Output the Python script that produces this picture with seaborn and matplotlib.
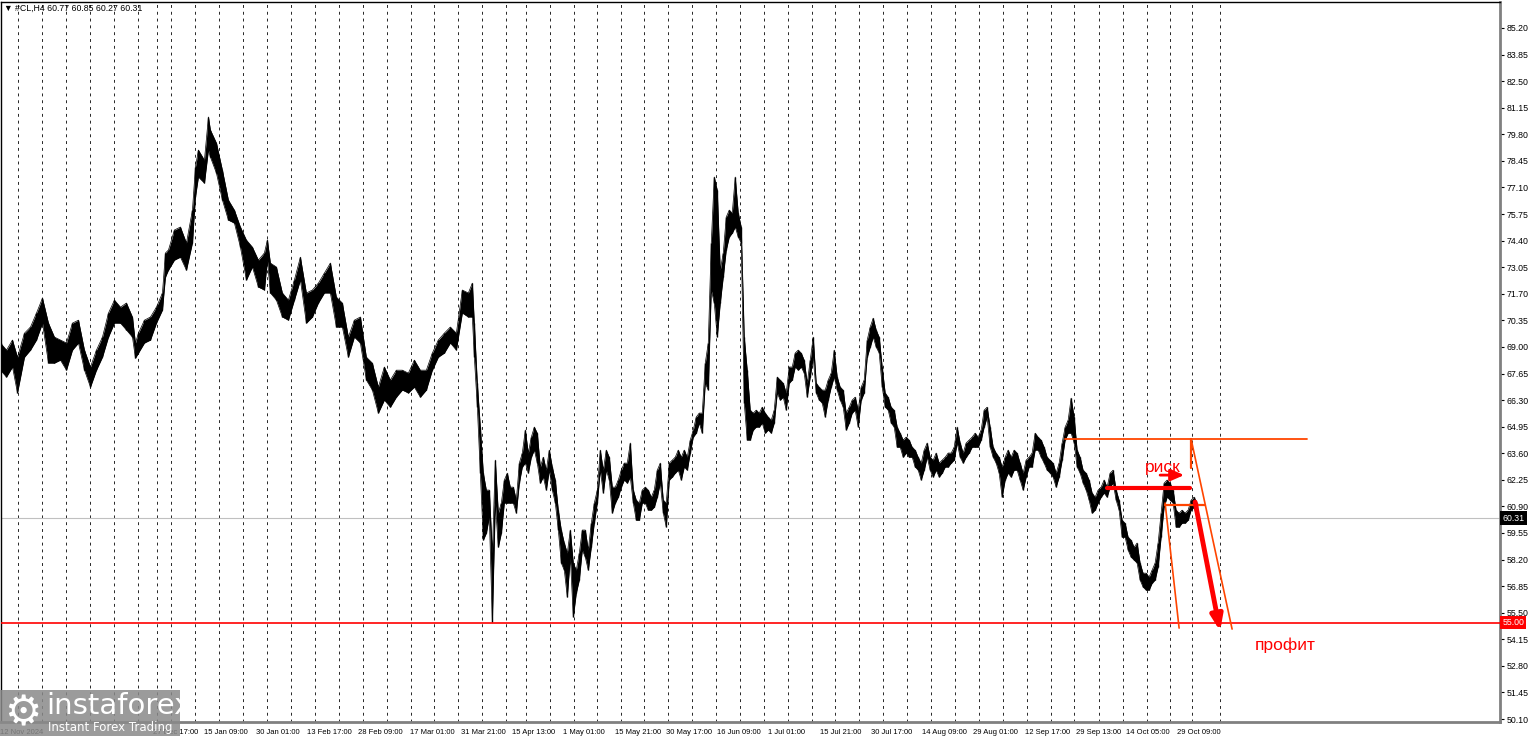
import numpy as np
import pandas as pd
import matplotlib
matplotlib.use("Agg")
import matplotlib.pyplot as plt
import seaborn as sns
from matplotlib.patches import Rectangle
from matplotlib.transforms import blended_transform_factory

# ---------------------------------------------------------------------
# Data (#CL, H4).  "bar" is the position
# of a sampled bar along the time axis, highs / lows are prices in USD.
# ---------------------------------------------------------------------
bar_early = [0, 6, 12, 17, 24, 30, 36, 42, 48, 54,
             60, 66, 72, 78, 84, 90, 96, 102, 108, 114,
             120, 126, 132, 135, 138, 144, 150, 156, 162, 165,
             168, 174, 180, 186, 192, 195, 198, 204, 208, 210,
             216, 222, 228, 234, 240, 246, 252, 258, 264, 267,
             270, 276, 282, 288, 294, 300, 306, 312, 318, 324,
             330, 336, 342, 348, 354, 360, 366, 372, 378, 384,
             390, 396, 402, 408, 414, 420, 426, 432, 438, 444,
             450, 456, 462, 468, 472, 474, 477, 480, 483, 486,
             489, 492, 495]
high_early = [69.20, 68.84, 69.35, 68.48, 69.70, 70.01, 70.72, 71.48, 70.21, 69.50,
              69.35, 69.20, 70.21, 70.36, 68.84, 67.98, 68.84, 69.50, 70.72, 71.38,
              71.02, 71.23, 70.52, 69.20, 69.70, 70.36, 70.52, 71.02, 71.74, 73.77,
              73.92, 74.94, 75.09, 74.28, 75.95, 78.14, 79.00, 78.49, 80.68, 80.02,
              79.36, 77.98, 76.46, 75.95, 75.09, 74.43, 74.07, 73.41, 73.77, 74.43,
              73.26, 73.06, 71.74, 71.38, 72.40, 73.56, 71.74, 71.89, 72.24, 72.75,
              73.26, 71.53, 71.23, 69.50, 70.36, 70.52, 68.48, 68.18, 66.96, 67.98,
              67.32, 67.82, 67.82, 67.67, 68.33, 67.82, 67.82, 68.69, 69.35, 69.70,
              70.01, 69.70, 71.89, 71.74, 72.24, 70.21, 67.16, 64.93, 62.59, 61.73,
              61.73, 58.53, 63.25]
low_early = [67.82, 67.47, 67.98, 66.66, 68.48, 68.84, 69.35, 70.21, 68.18, 68.18,
             68.33, 67.82, 68.84, 69.20, 67.82, 66.96, 67.82, 68.48, 69.50, 70.21,
             70.21, 69.86, 69.50, 68.43, 68.69, 69.20, 69.35, 70.21, 70.87, 72.55,
             72.90, 73.41, 73.56, 72.90, 74.28, 76.61, 77.63, 77.32, 79.00, 78.64,
             77.83, 76.46, 75.44, 75.29, 74.07, 72.40, 73.06, 72.04, 71.89, 73.41,
             71.74, 71.38, 70.52, 70.36, 71.38, 72.40, 70.21, 70.52, 71.23, 71.74,
             71.74, 70.01, 70.01, 68.48, 69.50, 69.20, 67.32, 66.81, 65.64, 66.30,
             65.94, 66.45, 66.81, 66.66, 66.96, 66.45, 66.81, 67.82, 68.48, 68.69,
             69.20, 68.84, 70.72, 70.52, 70.52, 68.48, 65.94, 62.59, 59.19, 59.54,
             60.36, 55.02, 61.07]

# from bar 498 on the chart was sampled every third bar
bar_late = list(range(498, 1198, 3))
high_late = [60.56, 61.07, 62.24, 62.59, 61.88, 61.88, 61.22, 63.10, 63.61, 64.78,   # 498
             63.61, 64.42, 64.93, 64.62, 62.90, 63.40, 62.74, 63.76, 62.90, 62.24,   # 528
             60.71, 59.70, 59.04, 58.53, 59.70, 58.02, 57.66, 58.53, 59.70, 59.70,   # 558
             58.68, 60.05, 61.07, 61.73, 63.76, 62.74, 63.76, 63.40, 61.88, 61.88,   # 588
             62.24, 62.74, 63.10, 63.10, 64.12, 61.73, 61.22, 61.07, 61.73, 61.88,   # 618
             61.73, 61.37, 61.73, 62.74, 63.10, 61.22, 61.07, 63.10, 63.25, 63.40,   # 648
             63.76, 63.40, 63.76, 63.40, 64.27, 64.78, 65.44, 65.64, 65.64, 68.18,   # 678
             69.20, 74.28, 77.63, 76.97, 72.90, 73.77, 75.60, 75.95, 75.80, 77.63,   # 708
             75.80, 75.09, 69.50, 67.82, 65.79, 65.64, 65.79, 65.64, 65.94, 65.64,   # 738
             65.44, 65.28, 65.79, 67.47, 67.32, 67.16, 66.66, 67.98, 67.98, 68.69,   # 768
             68.84, 68.69, 68.33, 67.16, 68.33, 69.50, 67.16, 66.96, 66.81, 66.81,   # 798
             67.32, 67.67, 68.84, 67.47, 66.96, 66.81, 65.64, 65.94, 66.30, 66.45,   # 828
             65.79, 66.96, 67.32, 69.35, 70.01, 70.46, 69.86, 69.50, 67.98, 66.66,   # 858
             66.45, 65.94, 65.79, 64.93, 64.62, 64.27, 64.42, 64.27, 63.91, 63.76,   # 888
             63.40, 63.10, 63.76, 64.12, 63.40, 63.25, 63.61, 63.10, 63.25, 63.40,   # 918
             63.61, 63.61, 63.91, 64.93, 64.12, 63.61, 64.12, 64.27, 64.42, 64.62,   # 948
             64.42, 64.78, 65.79, 65.94, 64.93, 63.91, 63.61, 63.40, 62.90, 63.40,   # 978
             63.76, 63.40, 63.76, 63.61, 63.10, 62.59, 63.25, 63.40, 63.61, 64.62,   # 1008
             64.42, 64.27, 63.91, 63.40, 63.25, 63.10, 62.59, 63.10, 64.12, 64.93,   # 1038
             65.28, 66.40, 65.44, 63.76, 63.40, 62.74, 62.59, 62.24, 61.58, 61.37,   # 1068
             61.73, 61.88, 62.24, 61.88, 62.59, 62.74, 61.73, 61.22, 60.20, 60.05,   # 1098
             59.34, 59.19, 58.83, 59.04, 58.02, 57.51, 57.51, 57.31, 57.66, 58.02,   # 1128
             59.04, 60.56, 62.08, 62.24, 62.08, 61.73, 60.71, 60.56, 60.71, 60.56,   # 1158
             60.71, 61.22, 61.37, 61.07]                                             # 1188
low_late = [58.83, 59.54, 61.07, 61.07, 61.07, 61.07, 60.56, 62.08, 62.90, 63.10,
            62.59, 63.40, 63.76, 63.10, 62.08, 62.39, 61.73, 62.74, 61.73, 61.07,
            59.70, 58.02, 57.66, 56.29, 58.32, 55.28, 56.50, 57.16, 58.68, 58.32,
            57.66, 58.83, 60.05, 61.07, 62.74, 61.58, 62.74, 62.24, 60.56, 61.07,
            61.37, 61.88, 62.24, 62.08, 62.39, 61.07, 60.20, 60.20, 61.07, 61.07,
            60.71, 60.71, 60.86, 61.37, 62.08, 60.56, 59.85, 62.24, 62.39, 62.59,
            62.74, 62.24, 62.90, 62.74, 63.61, 64.42, 64.62, 65.13, 64.62, 67.16,
            66.81, 71.89, 71.23, 69.50, 71.23, 72.55, 73.92, 74.58, 74.78, 75.09,
            74.58, 74.28, 66.15, 64.27, 64.27, 64.78, 64.93, 64.93, 65.13, 64.62,
            64.78, 64.62, 65.13, 66.66, 66.30, 66.45, 65.79, 67.16, 67.32, 67.98,
            67.82, 67.98, 67.67, 66.45, 67.47, 68.48, 66.66, 66.30, 66.15, 65.44,
            66.30, 66.96, 67.47, 66.81, 66.30, 65.94, 64.78, 65.13, 65.64, 65.79,
            64.93, 66.30, 66.66, 68.48, 68.99, 69.50, 68.99, 68.69, 66.96, 65.94,
            65.79, 65.13, 64.93, 63.91, 63.91, 63.40, 63.61, 63.40, 63.40, 62.90,
            62.74, 62.24, 62.74, 63.40, 62.74, 62.39, 62.74, 62.39, 62.59, 62.90,
            62.90, 63.10, 63.25, 64.12, 63.40, 63.10, 63.40, 63.61, 63.91, 63.91,
            63.91, 64.27, 64.93, 65.44, 63.91, 63.40, 63.10, 62.59, 61.37, 62.24,
            62.59, 62.39, 62.74, 62.74, 62.24, 61.73, 62.39, 62.90, 62.90, 63.76,
            63.76, 63.40, 63.10, 62.74, 62.59, 62.39, 61.88, 62.39, 63.25, 64.27,
            64.62, 64.62, 64.12, 62.90, 62.59, 62.08, 61.73, 61.22, 60.56, 60.71,
            61.07, 61.37, 61.58, 61.37, 61.88, 62.08, 61.22, 60.71, 59.34, 59.34,
            58.68, 58.32, 58.17, 58.02, 57.16, 56.80, 56.65, 56.65, 57.00, 57.16,
            57.82, 59.34, 60.86, 61.37, 61.22, 61.07, 59.85, 59.85, 60.05, 60.05,
            60.20, 60.71, 60.86, 60.31]

bars = bar_early + bar_late
highs = high_early + high_late
lows = low_early + low_late
assert len(bars) == len(highs) == len(lows), (len(bars), len(highs), len(lows))

header_text = "\u25bc #CL,H4 60.77 60.85 60.27 60.31"
last_price = 60.31
target_price = 55.00

price_ticks = [50.10, 51.45, 52.80, 54.15, 55.50, 56.85, 58.20, 59.55, 60.90,
               62.25, 63.60, 64.95, 66.30, 67.65, 69.00, 70.35, 71.70, 73.05,
               74.40, 75.75, 77.10, 78.45, 79.80, 81.15, 82.50, 83.85, 85.20]

date_ticks = [0, 51, 102, 153, 204, 256, 307, 358, 410, 461, 512, 563,
              615, 666, 717, 768, 820, 871, 922, 973, 1025, 1076, 1126, 1177]
date_labels = ["12 Nov 2024", "", "", "27 Dec 17:00", "15 Jan 09:00",
               "30 Jan 01:00", "13 Feb 17:00", "28 Feb 09:00", "17 Mar 01:00",
               "31 Mar 21:00", "15 Apr 13:00", "1 May 01:00", "15 May 21:00",
               "30 May 17:00", "16 Jun 09:00", "1 Jul 01:00", "15 Jul 21:00",
               "30 Jul 17:00", "14 Aug 09:00", "29 Aug 01:00", "12 Sep 17:00",
               "29 Sep 13:00", "14 Oct 05:00", "29 Oct 09:00"]

# weekly period separators
week_separators = [18, 42, 66, 90, 114, 138, 157, 171, 195, 219, 243, 267,
                   291, 315, 339, 363, 387, 411, 434, 458, 482, 506, 526, 550,
                   574, 597, 621, 644, 668, 692, 716, 740, 764, 788, 812, 835,
                   859, 883, 907, 931, 955, 979, 1003, 1027, 1051, 1074, 1099,
                   1123, 1147, 1170, 1192, 1220]

# trade idea drawn on the chart: levels and segments (bar, price)
stop_level = 64.32
risk_level = 61.83
entry_level = 60.97
stop_line = ([1065, 1307], [stop_level, stop_level])
risk_line = ([1107, 1190], [risk_level, risk_level])
entry_line = ([1165, 1205], [entry_level, entry_level])
stop_tick = ([1191, 1191], [62.85, stop_level])
channel_right = ([1191, 1232], [stop_level, 54.67])
channel_left = ([1165, 1179], [61.07, 54.72])
profit_arrow = ((1195, 61.12), (1220, 54.57))
risk_arrow = ((1160, 62.49), (1184, 62.49))

# ---------------------------------------------------------------------
sns.set_style("white")
plt.rcParams["font.family"] = ["Liberation Sans", "DejaVu Sans"]

ORANGE_RED = "#ff4500"
W, H = 1530, 736
fig = plt.figure(figsize=(W / 100, H / 100), dpi=100, facecolor="white")
ax = fig.add_axes([0.5 / W, (H - 722) / H, 1499.5 / W, 720 / H])
ax.set_xlim(0, 1500)
ax.set_ylim(49.95, 86.52)

# period separators
for xs in week_separators:
    ax.axvline(xs, color="black", lw=0.7, ls=(0, (3, 4)), alpha=0.85, zorder=1)

ax.axhline(last_price, color="#c0c0c0", lw=0.8, zorder=1)

# price bars: high-low band
df = pd.DataFrame({"bar": bars, "high": highs, "low": lows})
ax.fill_between(df["bar"], df["low"], df["high"], color="black", lw=0, zorder=3)
ax.vlines(df["bar"], df["low"], df["high"], color="black", lw=1.0, zorder=3)
sns.lineplot(data=df, x="bar", y="high", ax=ax, color="black", lw=0.5, zorder=3)
sns.lineplot(data=df, x="bar", y="low", ax=ax, color="black", lw=0.5, zorder=3)

ax.axhline(target_price, color="red", lw=1.2, zorder=4)

# trade drawing
ax.plot(*stop_line, color=ORANGE_RED, lw=1.3, zorder=5)
ax.plot(*risk_line, color="red", lw=3, zorder=5)
ax.plot(*entry_line, color=ORANGE_RED, lw=1.6, zorder=5)
ax.plot(*stop_tick, color=ORANGE_RED, lw=1.6, zorder=5)
ax.plot(*channel_right, color=ORANGE_RED, lw=1.2, zorder=5)
ax.plot(*channel_left, color=ORANGE_RED, lw=1.2, zorder=5)
ax.annotate("", xy=profit_arrow[1], xytext=profit_arrow[0],
            arrowprops=dict(arrowstyle="-|>,head_length=0.9,head_width=0.35",
                            color="red", lw=3.5, shrinkA=0, shrinkB=0), zorder=6)
ax.annotate("", xy=risk_arrow[1], xytext=risk_arrow[0],
            arrowprops=dict(arrowstyle="-|>,head_length=0.8,head_width=0.35",
                            color="red", lw=2, shrinkA=0, shrinkB=0), zorder=6)
ax.text(1163, 62.64, "риск", color="red", fontsize=12.5, ha="center", va="baseline",
        zorder=6)
ax.text(1285, 53.60, "профит", color="red", fontsize=12.5, ha="center", va="baseline",
        zorder=6)

# axes styling in MetaTrader fashion
ax.yaxis.tick_right()
ax.set_yticks(price_ticks)
ax.set_yticklabels([f"{p:.2f}" for p in price_ticks])
ax.tick_params(axis="y", direction="out", length=3, width=0.8, pad=1.5,
               labelsize=6.3, colors="black")
ax.set_xticks(date_ticks)
ax.set_xticklabels(date_labels)
for lbl in ax.get_xticklabels():
    lbl.set_ha("left")
ax.tick_params(axis="x", direction="out", length=4, width=0.8, pad=1,
               labelsize=5.5, colors="black")
ax.set_xlabel("")
ax.set_ylabel("")
ax.grid(False)
for side in ["left", "top"]:
    ax.spines[side].set_color("black")
    ax.spines[side].set_linewidth(1)
for side in ["right", "bottom"]:
    ax.spines[side].set_color("#808080")
    ax.spines[side].set_linewidth(2)

trans = blended_transform_factory(ax.transAxes, ax.transData)
ax.text(1.0015, last_price, f"{last_price:.2f}", transform=trans, ha="left", va="center",
        color="white", fontsize=6.3, clip_on=False, zorder=7,
        bbox=dict(boxstyle="square,pad=0.25", fc="black", ec="none"))
ax.text(1.0015, target_price, f"{target_price:.2f}", transform=trans, ha="left", va="center",
        color="white", fontsize=6.3, clip_on=False, zorder=7,
        bbox=dict(boxstyle="square,pad=0.25", fc="red", ec="none"))

# header line
fig.text(4 / W, 1 - 8 / H, header_text, fontsize=6.3, ha="left", va="center",
         color="black")

# watermark logo
fig.add_artist(Rectangle((0, 0), 180 / W, 46 / H, transform=fig.transFigure,
                         facecolor="#8a8a8a", edgecolor="none", alpha=0.85, zorder=10))
fig.text(23 / W, 1 - 713 / H, "\u2699", fontsize=30, color="white", ha="center",
         va="center", family="DejaVu Sans", zorder=11)
fig.text(46 / W, 1 - 706 / H, "instaforex", fontsize=21, color="white", ha="left",
         va="center", family="DejaVu Sans", zorder=11)
fig.text(48 / W, 1 - 727 / H, "Instant Forex Trading", fontsize=8.5, color="white",
         ha="left", va="center", family="DejaVu Sans", zorder=11)

fig.savefig("out.png", dpi=100, facecolor="white")
